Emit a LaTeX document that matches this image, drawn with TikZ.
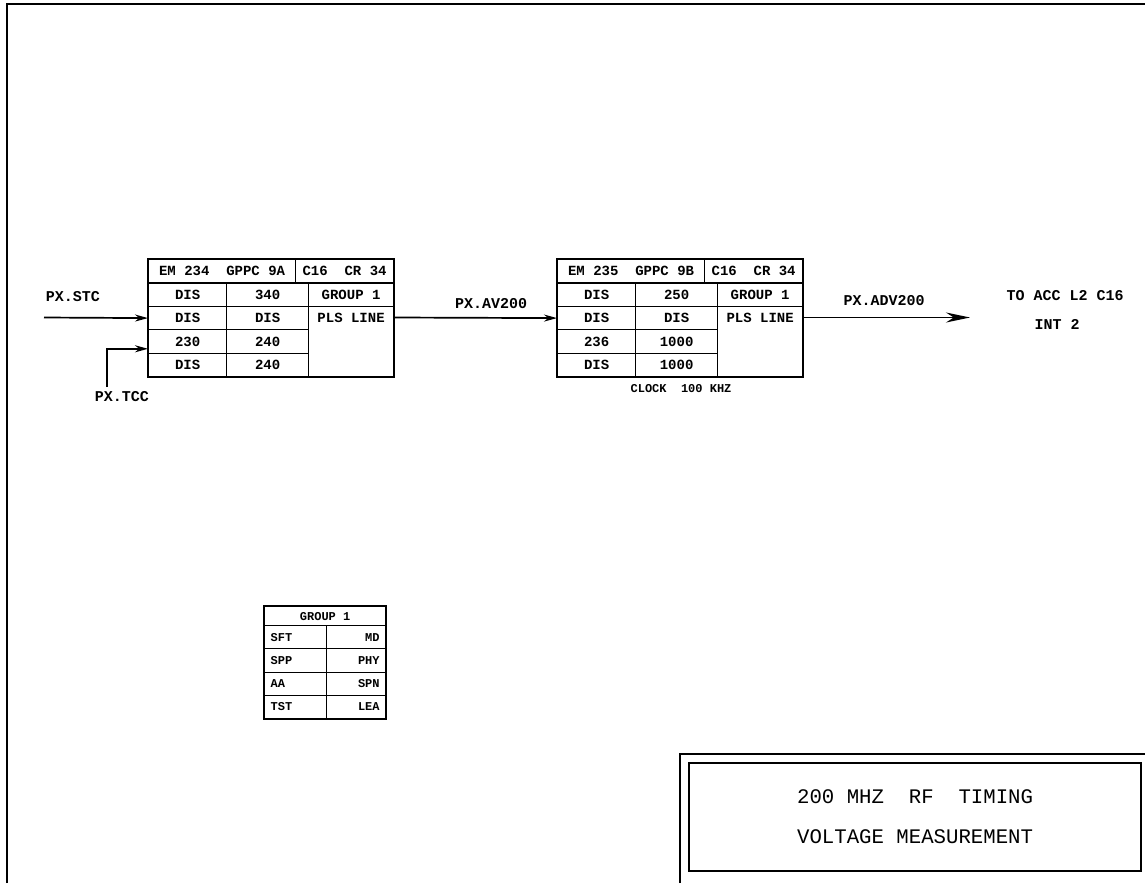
\documentclass[tikz,border=0pt]{standalone}
\usepackage{fontspec}
\setmonofont{Liberation Mono}
\usepackage{tikz}
\usetikzlibrary{arrows.meta, calc}

\tikzset{
  cell/.style={draw, line width=1.2pt, inner sep=0pt, minimum height=23.4pt, anchor=north west,
    font=\ttfamily\bfseries\fontsize{14}{16}\selectfont},
  gcell/.style={draw, line width=1.2pt, inner ysep=0pt, inner xsep=6pt, minimum height=23.25pt, anchor=north west,
    font=\ttfamily\bfseries\fontsize{12}{14}\selectfont},
  lbl/.style={inner sep=0pt, font=\ttfamily\bfseries\fontsize{15}{17}\selectfont},
  frame/.style={line width=2.2pt},
  sig/.style={line width=1.7pt, -{Stealth[length=13pt,width=7pt]}},
  sigbig/.style={line width=1.7pt, -{Stealth[length=24pt,width=10pt]}},
}

\begin{document}
\begin{tikzpicture}[x=1pt,y=-1pt]
  \useasboundingbox (0,0) rectangle (1145,883);

  % sheet frame
  \draw[frame] (7,883) -- (7,4) -- (1145,4);

  % module EM 234
  \node[cell, minimum width=147pt] (emA) at (148,259) {EM 234\ \ GPPC 9A};
  \node[cell, minimum width=98pt] (crA) at (295,259) {C16\ \ CR 34};
  \foreach \p/\q [count=\i] in {DIS/340, DIS/DIS, 230/240, DIS/240} {
    \node[cell, minimum width=78pt] (lA\i) at (148,{259+23.4*\i}) {\p};
    \node[cell, minimum width=82pt] (rA\i) at (226,{259+23.4*\i}) {\q};
  }
  \node[cell, minimum width=85pt] (grpA) at (308,282.4) {GROUP 1};
  \node[cell, minimum width=85pt, minimum height=70.2pt] (mA) at (308,305.8) {};
  \node[cell, draw=none, anchor=center] (plsA) at ($(mA.north)+(0,11.7)$) {PLS LINE};
  \draw[frame] (emA.north west) rectangle (mA.south east);

  % module EM 235
  \node[cell, minimum width=147pt] (emB) at (557,259) {EM 235\ \ GPPC 9B};
  \node[cell, minimum width=98pt] (crB) at (704,259) {C16\ \ CR 34};
  \foreach \p/\q [count=\i] in {DIS/250, DIS/DIS, 236/1000, DIS/1000} {
    \node[cell, minimum width=78pt] (lB\i) at (557,{259+23.4*\i}) {\p};
    \node[cell, minimum width=82pt] (rB\i) at (635,{259+23.4*\i}) {\q};
  }
  \node[cell, minimum width=85pt] (grpB) at (717,282.4) {GROUP 1};
  \node[cell, minimum width=85pt, minimum height=70.2pt] (mB) at (717,305.8) {};
  \node[cell, draw=none, anchor=center] (plsB) at ($(mB.north)+(0,11.7)$) {PLS LINE};
  \draw[frame] (emB.north west) rectangle (mB.south east);
  \node[cell, draw=none, anchor=center, font=\ttfamily\bfseries\fontsize{12}{14}\selectfont] (clk) at (681,389) {CLOCK\ \ 100 KHZ};

  % signals
  \coordinate (stc) at (44,317.5);
  \coordinate (tcc) at (107,387);
  \coordinate (acc) at (970,317.5);
  \draw[sig] (stc) -- (lA2.west);
  \draw[sig] (tcc) |- ([yshift=5pt]lA3.south west);
  \draw[sig] (plsA -| mA.east) -- (lB2.west);
  \draw[sigbig] (plsB -| mB.east) -- (acc);

  \node[lbl] (stcLbl) at (73,297) {PX.STC};
  \node[lbl] (tccLbl) at (122,397) {PX.TCC};
  \node[lbl] (av) at (491,304) {PX.AV200};
  \node[lbl] (adv) at (884,301) {PX.ADV200};
  \node[lbl] (dest) at (1065,296) {TO ACC L2 C16};
  \node[lbl] (intr) at (1057,324) {INT 2};

  % group 1 legend
  \node[gcell, inner sep=0pt, minimum width=121pt, minimum height=19pt] (grpH) at (264,606) {GROUP 1};
  \foreach \p/\q [count=\i] in {SFT/MD, SPP/PHY, AA/SPN, TST/LEA} {
    \node[gcell, text width=50pt, align=left] (gl\i) at (264,{625+23.25*(\i-1)}) {\p};
    \node[gcell, text width=47pt, align=right] (gr\i) at (326,{625+23.25*(\i-1)}) {\q};
  }
  \draw[frame] (grpH.north west) rectangle (gr4.south east);

  % title block
  \draw[frame] (680,883) -- (680,754) -- (1145,754);
  \node[draw, frame, anchor=north west, minimum width=452pt, minimum height=108pt, align=center,
    font=\ttfamily\fontsize{20.7}{40}\selectfont] (title) at (688,762)
    {200 MHZ\ \ RF\ \ TIMING\\VOLTAGE MEASUREMENT};
\end{tikzpicture}
\end{document}
